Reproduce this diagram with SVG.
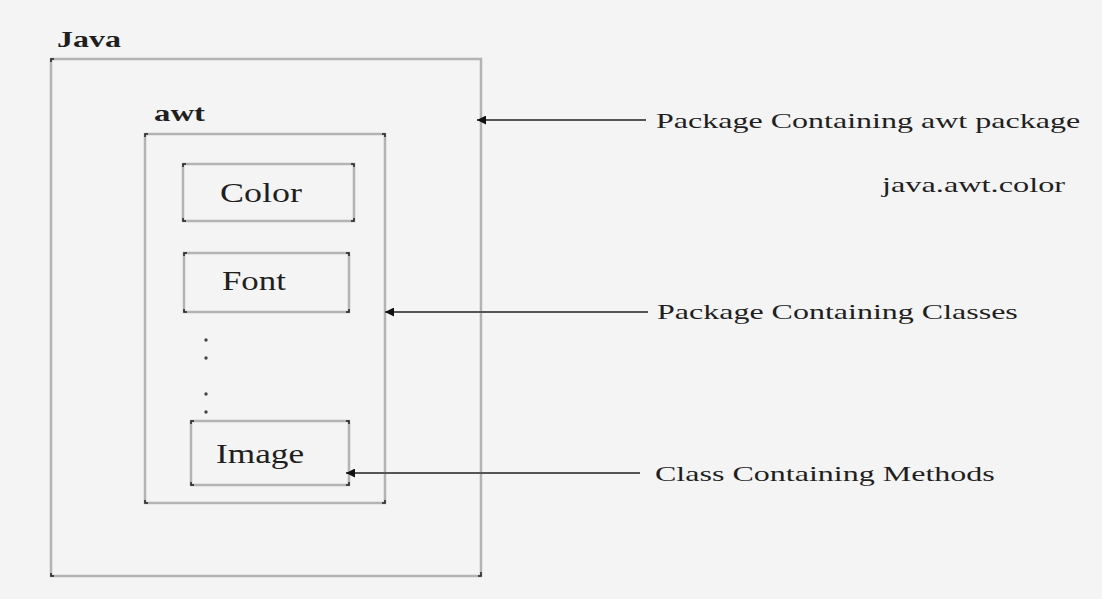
<svg xmlns="http://www.w3.org/2000/svg" width="1102" height="599" viewBox="0 0 1102 599">
  <defs>
    <style>
      .box { fill: none; stroke: #b3b3b3; stroke-width: 2.5; }
      .tick { fill: none; stroke: #222; stroke-width: 1.5; }
      text { fill: #1f1f1f; font-family: "Liberation Serif", "Times New Roman", serif; }
      .title { font-size: 24px; font-weight: bold; }
      .cls { font-size: 27px; }
      .note { font-size: 22px; }
      .conn { stroke: #555; stroke-width: 2; fill: none; marker-end: url(#head); }
      .dot { fill: #444; }
    </style>
    <marker id="head" viewBox="0 0 10 10" refX="10" refY="5" markerWidth="4.5" markerHeight="4.5" orient="auto" markerUnits="strokeWidth">
      <path d="M0,0 L10,5 L0,10 z" fill="#111"/>
    </marker>
  </defs>

  <rect width="1102" height="599" fill="#f4f4f4"/>

  <!-- Outer package: java -->
  <g id="java">
    <rect class="box" x="51" y="59" width="430" height="517"/>
    <path class="tick" d="M51,62 V59 H54 M51,573 V576 H54 M478,576 H481 V572"/>
    <text class="title" transform="translate(57,47) scale(1.333,1)">Java</text>
  </g>

  <!-- Inner package: awt -->
  <g id="awt">
    <rect class="box" x="145" y="134" width="240" height="369"/>
    <path class="tick" d="M145,137 V134 H148 M382,134 H385 V137 M145,500 V503 H148 M382,503 H385 V500"/>
    <text class="title" transform="translate(154,121) scale(1.367,1)">awt</text>
  </g>

  <!-- Classes -->
  <g id="color">
    <rect class="box" x="183" y="164" width="171" height="57"/>
    <path class="tick" d="M183,167 V164 H186 M351,164 H354 V167 M183,218 V221 H186 M351,221 H354 V218"/>
    <text class="cls" transform="translate(220,202) scale(1.333,1)">Color</text>
  </g>

  <g id="font">
    <rect class="box" x="184" y="253" width="165" height="59"/>
    <path class="tick" d="M184,256 V253 H187 M346,253 H349 V256 M184,309 V312 H187 M346,312 H349 V309"/>
    <text class="cls" transform="translate(222,290) scale(1.29,1)">Font</text>
  </g>

  <g id="more">
    <circle class="dot" cx="206" cy="340" r="1.7"/>
    <circle class="dot" cx="206" cy="358" r="1.7"/>
    <circle class="dot" cx="206" cy="394" r="1.7"/>
    <circle class="dot" cx="206" cy="412" r="1.7"/>
  </g>

  <g id="image">
    <rect class="box" x="191" y="421" width="158" height="64"/>
    <path class="tick" d="M191,424 V421 H194 M346,421 H349 V424 M191,482 V485 H194 M346,485 H349 V482"/>
    <text class="cls" transform="translate(216,463) scale(1.306,1)">Image</text>
  </g>

  <!-- Annotations -->
  <g id="note-package">
    <text class="note" transform="translate(656,128) scale(1.456,1)">Package Containing awt package</text>
    <text class="note" transform="translate(882,192) scale(1.47,1)">java.awt.color</text>
  </g>
  <g id="note-classes">
    <text class="note" transform="translate(657,319) scale(1.455,1)">Package Containing Classes</text>
  </g>
  <g id="note-methods">
    <text class="note" transform="translate(655,481) scale(1.456,1)">Class Containing Methods</text>
  </g>

  <!-- Connectors -->
  <g id="connectors">
    <line class="conn" x1="646" y1="120" x2="477" y2="120"/>
    <line class="conn" x1="648" y1="312" x2="385" y2="312"/>
    <line class="conn" x1="640" y1="473" x2="346" y2="473"/>
  </g>
</svg>
